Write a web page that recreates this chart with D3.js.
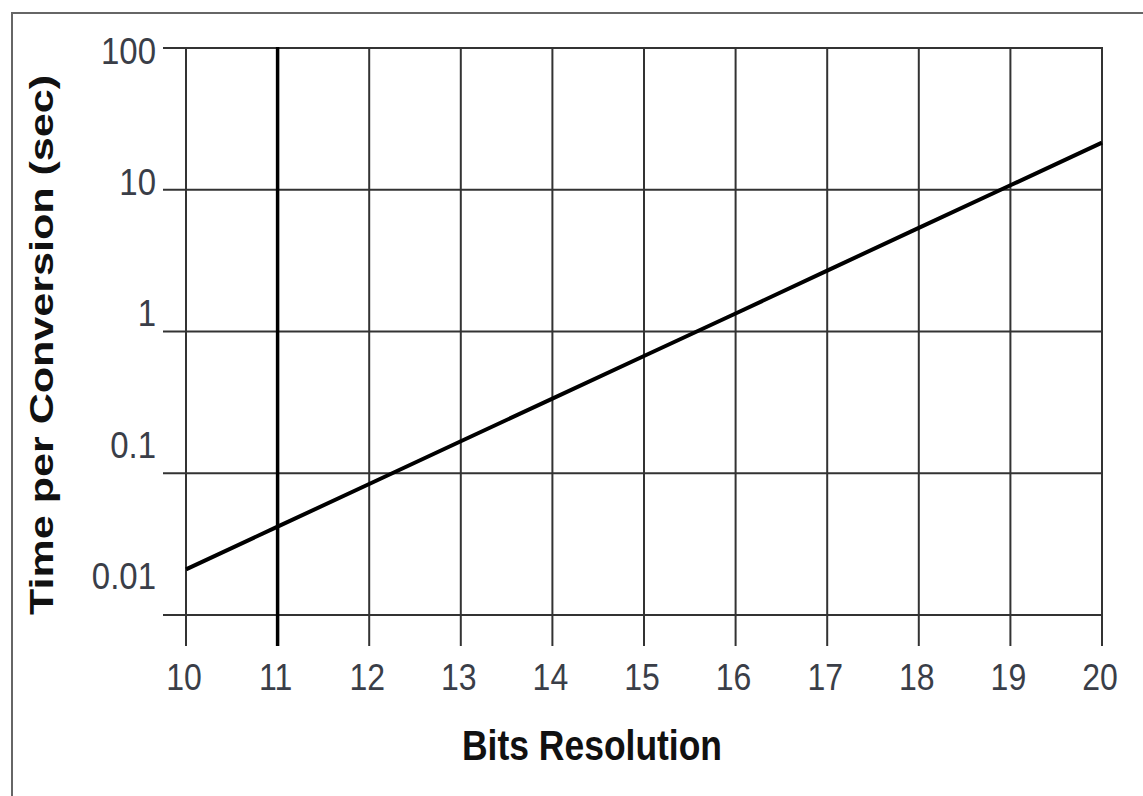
<!DOCTYPE html>
<html lang="en">
<head>
  <title>Time per conversion vs bits resolution</title>
  <script type="text/javascript" src="https://cdn.jsdelivr.net/npm/d3@7/dist/d3.min.js"></script>
  <style>
    body { margin: 0; background: #fff; }
    svg { display: block; font-family: "Liberation Sans", Arial, sans-serif; }
  </style>
</head>
<body>
  <script type="text/javascript">
    var width = 1143;
    var height = 796;

    // data
    var bits = [10, 11, 12, 13, 14, 15, 16, 17, 18, 19, 20];
    var seconds = [0.021, 0.042, 0.084, 0.168, 0.336, 0.672, 1.34, 2.69, 5.38, 10.75, 21.5];
    var yTicks = [0.01, 0.1, 1, 10, 100];
    var yTickLabels = ["0.01", "0.1", "1", "10", "100"];
    var xTitle = "Bits Resolution";
    var yTitle = "Time per Conversion (sec)";

    var x = d3.scaleLinear().domain([10, 20]).range([186, 1102]);
    var y = d3.scaleLog().domain([0.01, 100]).range([615, 48]);
    // labels in the original sit a bit off their gridlines
    var yLab = d3.scaleLog().domain([0.01, 100]).range([576, 51]);

    var svg = d3.select("body").append("svg")
      .attr("width", width)
      .attr("height", height);

    // outer frame
    svg.append("rect")
      .attr("x", 12).attr("y", 13)
      .attr("width", 1150).attr("height", 820)
      .attr("fill", "none")
      .attr("stroke", "#666")
      .attr("stroke-width", 2);

    // horizontal gridlines (stick out to the left as ticks)
    svg.selectAll(".hgrid")
      .data(yTicks)
      .enter().append("line")
      .attr("class", "hgrid")
      .attr("x1", 163).attr("x2", x(20))
      .attr("y1", function (d) { return y(d); })
      .attr("y2", function (d) { return y(d); })
      .attr("stroke", "#333")
      .attr("stroke-width", 2);

    // vertical gridlines (stick out below as ticks)
    svg.selectAll(".vgrid")
      .data(bits)
      .enter().append("line")
      .attr("class", "vgrid")
      .attr("x1", function (d) { return x(d); })
      .attr("x2", function (d) { return x(d); })
      .attr("y1", y(100) - 1).attr("y2", 646)
      .attr("stroke", function (d) { return d === 11 ? "#000" : "#333"; })
      .attr("stroke-width", function (d) { return d === 11 ? 3.5 : 2; });

    // x tick labels (the source is stretched a little vertically)
    svg.selectAll(".xlab")
      .data(bits)
      .enter().append("text")
      .attr("class", "xlab")
      .attr("transform", function (d) {
        return "translate(" + (x(d) - 2) + ",690) scale(1,1.17)";
      })
      .attr("text-anchor", "middle")
      .attr("font-size", 32)
      .attr("fill", "#3a3e48")
      .text(function (d) { return d; });

    // y tick labels
    svg.selectAll(".ylab")
      .data(yTicks)
      .enter().append("text")
      .attr("class", "ylab")
      .attr("transform", function (d) {
        return "translate(156," + yLab(d) + ") scale(1,1.12)";
      })
      .attr("dy", "0.35em")
      .attr("text-anchor", "end")
      .attr("font-size", 33)
      .attr("fill", "#3a3e48")
      .text(function (d, i) { return yTickLabels[i]; });

    // data line
    var line = d3.line()
      .x(function (d, i) { return x(bits[i]); })
      .y(function (d) { return y(d); });

    svg.append("path")
      .datum(seconds)
      .attr("d", line)
      .attr("fill", "none")
      .attr("stroke", "#000")
      .attr("stroke-width", 4);

    // axis titles
    svg.append("text")
      .attr("transform", "translate(592,760) scale(1,1.15)")
      .attr("text-anchor", "middle")
      .attr("font-size", 37)
      .attr("font-weight", "bold")
      .attr("textLength", 260)
      .attr("lengthAdjust", "spacingAndGlyphs")
      .attr("fill", "#111")
      .text(xTitle);

    svg.append("text")
      .attr("transform", "translate(53,345) rotate(-90)")
      .attr("text-anchor", "middle")
      .attr("font-size", 33)
      .attr("font-weight", "bold")
      .attr("textLength", 540)
      .attr("lengthAdjust", "spacingAndGlyphs")
      .attr("fill", "#111")
      .text(yTitle);
  </script>
</body>
</html>
